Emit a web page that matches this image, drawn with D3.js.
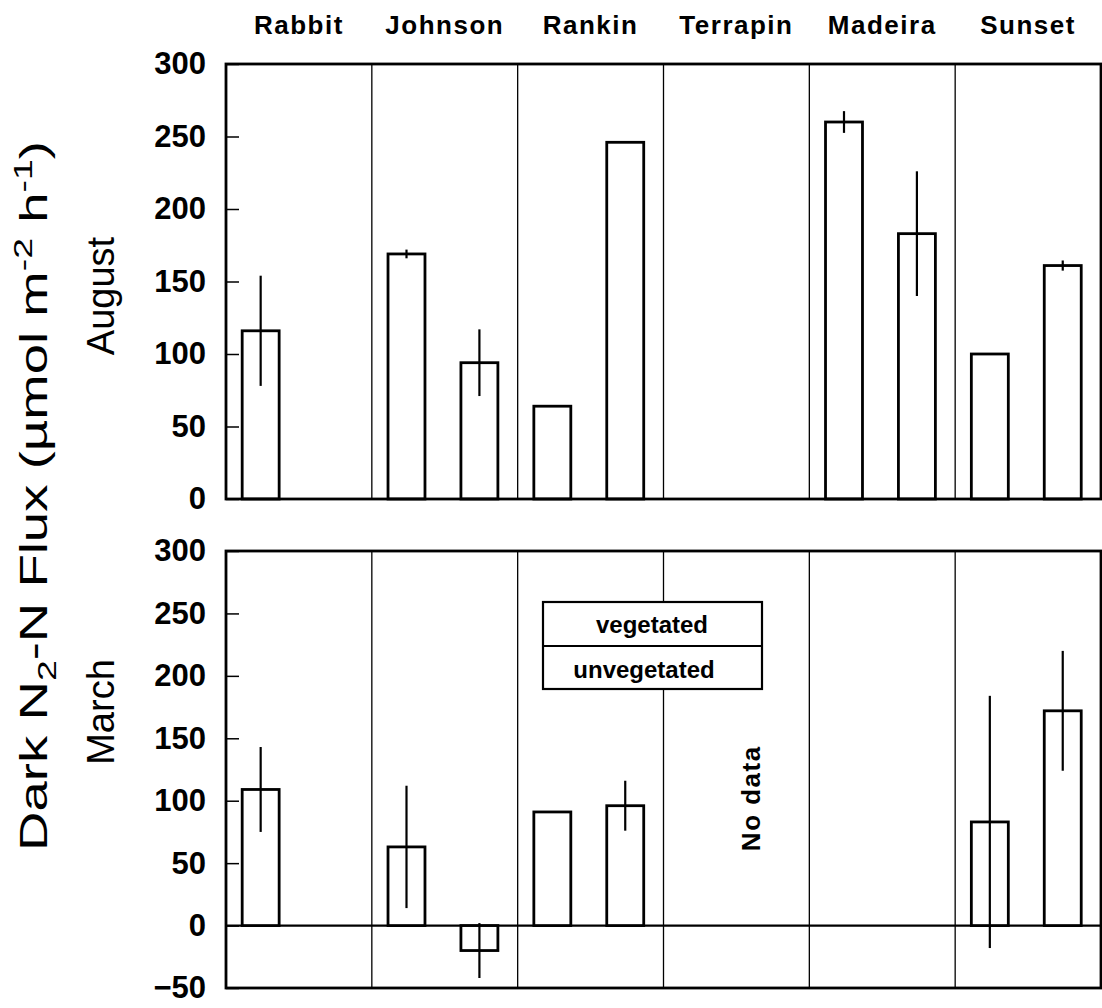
<!DOCTYPE html>
<html>
<head>
<meta charset="utf-8">
<script src="https://cdn.jsdelivr.net/npm/d3@7"></script>
<style>
  body { margin: 0; background: #fff; }
  svg { display: block; font-family: Arial, "Liberation Sans", sans-serif; }
</style>
</head>
<body>
<svg width="1102" height="1008"></svg>
<script>
// sites across the top, two bars per site
const sites = ["Rabbit", "Johnson", "Rankin", "Terrapin", "Madeira", "Sunset"];
const types = ["vegetated", "unvegetated"];

// August (top panel)
const augVeg = [116, 169, 64, null, 260, 100];
const augVegErr = [38, 3, 0, null, 7.5, 0];
const augUnveg = [null, 94, 246, null, 183, 161];
const augUnvegErr = [null, 23, 0, null, 43, 3.5];

// March (bottom panel)
const marVeg = [109, 63, 91, null, null, 83];
const marVegErr = [34, 49, 0, null, null, 101];
const marUnveg = [null, -20, 96, null, null, 172];
const marUnvegErr = [null, 22, 20, null, null, 48];

const augTicks = [0, 50, 100, 150, 200, 250, 300];
const marTicks = [-50, 0, 50, 100, 150, 200, 250, 300];

const svg = d3.select("svg");
svg.append("rect").attr("width", 1102).attr("height", 1008).attr("fill", "#fff");

const left = 226, right = 1101;

const x = d3.scaleBand().domain(sites).range([left, right]).padding(0);
const xSub = d3.scaleBand().domain(types).range([0, x.bandwidth()])
  .paddingInner(0.493).paddingOuter(0.2466).align(0.45);

// site names along the top
svg.append("g")
  .selectAll("text")
  .data(sites)
  .enter()
  .append("text")
  .attr("x", (d) => x(d) + x.bandwidth() / 2)
  .attr("y", 34)
  .attr("text-anchor", "middle")
  .attr("font-size", 26)
  .attr("font-weight", "bold")
  .attr("letter-spacing", 1.5)
  .text((d) => d);

function drawPanel(y, ticks, vegVals, vegErr, unVals, unErr) {
  const g = svg.append("g");
  const [yBot, yTop] = y.range();

  // group dividers
  g.append("g")
    .selectAll("line")
    .data(sites.slice(1))
    .enter()
    .append("line")
    .attr("x1", (d) => x(d)).attr("x2", (d) => x(d))
    .attr("y1", yTop).attr("y2", yBot)
    .attr("stroke", "#000")
    .attr("stroke-width", 1.3);

  // zero line
  g.append("line")
    .attr("x1", left).attr("x2", right)
    .attr("y1", y(0)).attr("y2", y(0))
    .attr("stroke", "#000").attr("stroke-width", 2.2);

  // bars
  const rows = [];
  sites.forEach((s, i) => {
    rows.push({ site: s, type: "vegetated", v: vegVals[i], e: vegErr[i] });
    rows.push({ site: s, type: "unvegetated", v: unVals[i], e: unErr[i] });
  });
  const data = rows.filter((d) => d.v !== null);

  g.append("g")
    .selectAll("rect")
    .data(data)
    .enter()
    .append("rect")
    .attr("x", (d) => x(d.site) + xSub(d.type))
    .attr("width", xSub.bandwidth())
    .attr("y", (d) => y(Math.max(0, d.v)))
    .attr("height", (d) => Math.abs(y(d.v) - y(0)))
    .attr("fill", "#fff")
    .attr("stroke", "#000")
    .attr("stroke-width", 2.8);

  // error bars
  g.append("g")
    .selectAll("line")
    .data(data.filter((d) => d.e > 0))
    .enter()
    .append("line")
    .attr("x1", (d) => x(d.site) + xSub(d.type) + xSub.bandwidth() / 2)
    .attr("x2", (d) => x(d.site) + xSub(d.type) + xSub.bandwidth() / 2)
    .attr("y1", (d) => y(d.v - d.e))
    .attr("y2", (d) => y(d.v + d.e))
    .attr("stroke", "#000")
    .attr("stroke-width", 2.2);

  // axis with inward ticks
  const axis = g.append("g")
    .attr("transform", `translate(${left},0)`)
    .call(d3.axisLeft(y).tickValues(ticks).tickSize(-13).tickPadding(20));
  axis.select(".domain").remove();
  axis.selectAll(".tick line").attr("stroke-width", 1.5);
  axis.selectAll(".tick text")
    .attr("font-size", 31)
    .attr("font-weight", "bold")
    .attr("font-family", "Arial, 'Liberation Sans', sans-serif")
    .attr("fill", "#000");

  // frame
  g.append("rect")
    .attr("x", left).attr("y", yTop)
    .attr("width", right - left).attr("height", yBot - yTop)
    .attr("fill", "none")
    .attr("stroke", "#000")
    .attr("stroke-width", 2.8);
  return g;
}

const yAug = d3.scaleLinear().domain([0, 300]).range([499, 64]);
const yMar = d3.scaleLinear().domain([-50, 300]).range([988, 551]);

drawPanel(yAug, augTicks, augVeg, augVegErr, augUnveg, augUnvegErr);
drawPanel(yMar, marTicks, marVeg, marVegErr, marUnveg, marUnvegErr);

// "No data" for Terrapin in March
svg.append("text")
  .attr("transform", `translate(${x("Terrapin") + x.bandwidth() / 2 + 24},${yMar(102)}) rotate(-90)`)
  .attr("text-anchor", "middle")
  .attr("font-size", 26)
  .attr("font-weight", "bold")
  .attr("letter-spacing", 1.5)
  .text("No data");

// legend box
const leg = svg.append("g").attr("transform", "translate(543,602)");
leg.append("rect").attr("width", 219).attr("height", 87)
  .attr("fill", "#fff").attr("stroke", "#000").attr("stroke-width", 2.2);
leg.append("line").attr("x1", 0).attr("x2", 219).attr("y1", 44).attr("y2", 44)
  .attr("stroke", "#000").attr("stroke-width", 2.2);
leg.selectAll("text.lab")
  .data(types)
  .enter()
  .append("text")
  .attr("class", "lab")
  .attr("x", (d, i) => (i === 0 ? 109 : 101))
  .attr("y", (d, i) => (i === 0 ? 31 : 76))
  .attr("text-anchor", "middle")
  .attr("font-size", 24)
  .attr("font-weight", "bold")
  .text((d) => d);

// y axis title
const title = svg.append("text")
  .attr("font-size", 38)
  .attr("text-anchor", "middle");
title.append("tspan").text("Dark N");
title.append("tspan").attr("font-size", 26).attr("dy", 9).text("2");
title.append("tspan").attr("dy", -9).text("-N Flux (\u00b5mol m");
title.append("tspan").attr("font-size", 26).attr("dy", -15).text("-2");
title.append("tspan").attr("dy", 15).text(" h");
title.append("tspan").attr("font-size", 26).attr("dy", -15).text("-1");
title.append("tspan").attr("dy", 15).text(")");
const tLen = title.node().getComputedTextLength();
title.attr("transform", `translate(47,496) rotate(-90) scale(${710 / tLen},1)`);

// season labels
svg.append("text")
  .attr("transform", "translate(114,296) rotate(-90)")
  .attr("text-anchor", "middle")
  .attr("font-size", 38)
  .text("August");
svg.append("text")
  .attr("transform", "translate(114,712) rotate(-90)")
  .attr("text-anchor", "middle")
  .attr("font-size", 38)
  .text("March");
</script>
</body>
</html>
